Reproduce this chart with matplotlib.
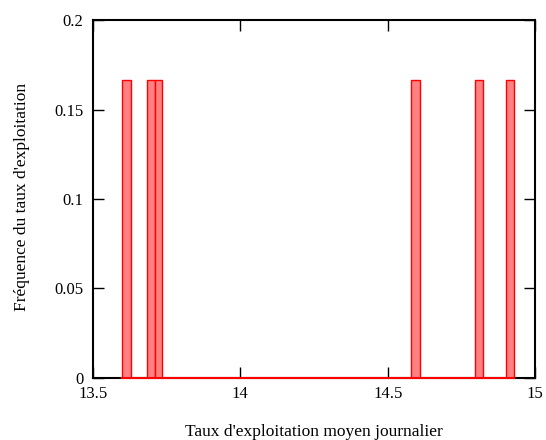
import matplotlib
matplotlib.use("Agg")
import matplotlib.pyplot as plt

# Histogram bins (left edges, widths) and frequencies
bin_left = [13.598, 13.682, 13.709, 14.580, 14.795, 14.902]
bin_width = [0.031, 0.027, 0.026, 0.030, 0.027, 0.027]
frequency = [1/6, 1/6, 1/6, 1/6, 1/6, 1/6]

x_ticks = [13.5, 14, 14.5, 15]
x_tick_labels = ["13.5", "14", "14.5", "15"]
y_ticks = [0, 0.05, 0.1, 0.15, 0.2]
y_tick_labels = ["0", "0.05", "0.1", "0.15", "0.2"]

plt.rcParams['font.family'] = ['Liberation Serif', 'DejaVu Serif']

fig = plt.figure(figsize=(5.46, 4.40), dpi=100)
ax = fig.add_axes([0.1703, 0.141, 0.8097, 0.8135])

ax.bar(bin_left, frequency, width=bin_width, align='edge',
       facecolor='#ff8080', edgecolor='#ff0000', linewidth=1.0, zorder=3)
ax.plot([bin_left[0], bin_left[-1] + bin_width[-1]], [0, 0],
        color='#ff0000', linewidth=1.5, zorder=4, clip_on=False)

ax.set_xlim(13.5, 15)
ax.set_ylim(0, 0.2)
ax.set_xticks(x_ticks)
ax.set_xticklabels(x_tick_labels)
ax.set_yticks(y_ticks)
ax.set_yticklabels(y_tick_labels)

for s in ax.spines.values():
    s.set_linewidth(1.5)
    s.set_color('black')

ax.tick_params(direction='in', length=8, width=1.0, top=True, right=True,
               labelsize=12)
ax.tick_params(axis='y', pad=7)
ax.tick_params(axis='x', pad=6)

ax.set_xlabel("Taux d'exploitation moyen journalier", fontsize=12.5)
ax.set_ylabel("Fréquence du taux d'exploitation", fontsize=12.5)
ax.xaxis.set_label_coords(0.5, -0.128)
ax.yaxis.set_label_coords(-0.142, 0.505)

fig.savefig("out.png", dpi=100)
